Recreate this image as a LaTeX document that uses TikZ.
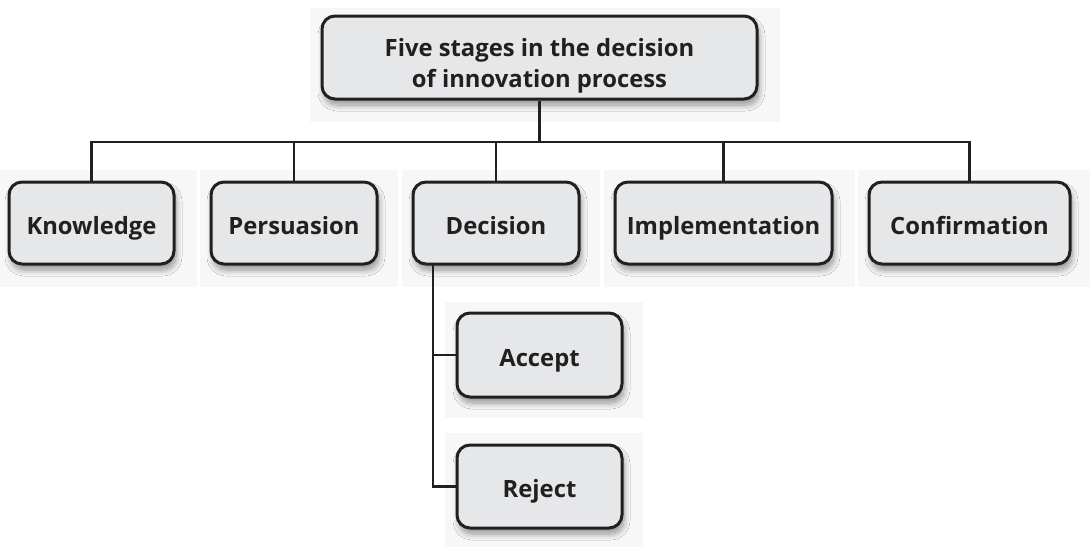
\documentclass[tikz,border=0pt]{standalone}
\usepackage{fontspec}
\setmainfont{Open Sans}
\usetikzlibrary{shadows.blur}
\definecolor{ink}{HTML}{231F20}
\definecolor{boxfill}{HTML}{E6E7E9}
\definecolor{panel}{HTML}{F7F7F7}
\tikzset{
  stagebox/.style={draw=ink, line width=3pt, fill=boxfill, rounded corners=13pt,
    text=ink, font=\fontsize{23.8}{31}\selectfont\bfseries, align=center,
    inner sep=0pt,
    blur shadow={shadow xshift=2pt, shadow yshift=-6pt, shadow blur steps=10, shadow blur radius=6pt, shadow opacity=40}},
  oneline/.style={text height=24pt, text depth=2pt},
  link/.style={draw=ink, line width=2.6pt},
  bgpanel/.style={fill=panel, draw=none}
}
\begin{document}
\begin{tikzpicture}[x=1pt, y=-1pt]
\useasboundingbox (0,0) rectangle (1090,547);
% background panels
\fill[bgpanel] (310,8) rectangle (780,122);
\fill[bgpanel] (0,170) rectangle (197,287);
\fill[bgpanel] (200,170) rectangle (398,287);
\fill[bgpanel] (402,170) rectangle (600,287);
\fill[bgpanel] (604,170) rectangle (855,287);
\fill[bgpanel] (858,170) rectangle (1090,287);
\fill[bgpanel] (445,302) rectangle (643,418);
\fill[bgpanel] (445,433) rectangle (643,547);
% nodes
\node[stagebox, minimum width=435pt, minimum height=83pt] (top) at (539.5,57.5)
  {\raisebox{-8pt}[\height][\depth]{\begin{tabular}{@{}c@{}}Five stages in the decision\\of innovation process\end{tabular}}};
\node[stagebox, oneline, minimum width=165pt, minimum height=82pt] (K) at (91.5,223) {Knowledge};
\node[stagebox, oneline, minimum width=166pt, minimum height=82pt] (P) at (294,223) {Persuasion};
\node[stagebox, oneline, minimum width=166pt, minimum height=82pt] (D) at (496,223) {Decision};
\node[stagebox, oneline, minimum width=217pt, minimum height=82pt] (I) at (723.5,223) {Implementation};
\node[stagebox, oneline, minimum width=201pt, minimum height=82pt] (C) at (969.5,223) {Confirmation};
\node[stagebox, oneline, minimum width=165pt, minimum height=84pt] (A) at (539.5,355) {Accept};
\node[stagebox, oneline, minimum width=165pt, minimum height=83pt] (R) at (539.5,486.5) {Reject};
% connectors
\coordinate (bus) at (539.5,142);
\coordinate (dtrunk) at (433,264);
\draw[link] (top.south) -- (bus);
\draw[link] (K.north) |- (bus);
\draw[link] (P.north) |- (bus);
\draw[link] (D.north) |- (bus);
\draw[link] (I.north) |- (bus);
\draw[link] (C.north) |- (bus);
\draw[link] (dtrunk) |- (A.west);
\draw[link] (dtrunk) |- (R.west);
\end{tikzpicture}
\end{document}
